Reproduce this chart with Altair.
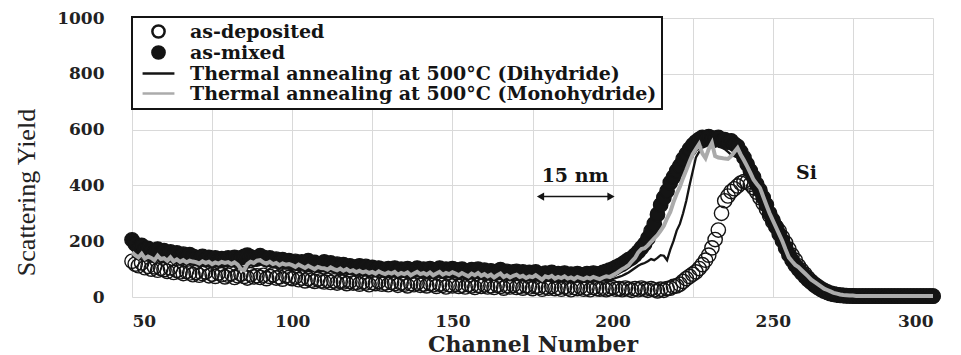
import altair as alt
import pandas as pd

channels = list(range(50, 301))

as_deposited = [
    128, 118, 112, 122, 105, 110, 100, 108, 96, 102,
    98, 92, 104, 88, 95, 90, 84, 92, 86, 80,
    88, 78, 84, 90, 76, 82, 74, 86, 80, 72,
    78, 84, 70, 76, 82, 74, 68, 80, 72, 76,
    70, 78, 66, 74, 80, 68, 72, 64, 76, 70,
    66, 72, 62, 68, 58, 66, 60, 56, 64, 58,
    54, 60, 52, 58, 50, 56, 54, 48, 56, 50,
    52, 46, 54, 50, 44, 52, 48, 56, 46, 50,
    44, 52, 48, 42, 50, 46, 40, 48, 44, 50,
    42, 46, 40, 48, 44, 38, 46, 42, 36, 44,
    40, 46, 38, 42, 36, 44, 40, 34, 42, 38,
    44, 36, 40, 34, 42, 38, 32, 40, 36, 42,
    34, 38, 32, 40, 36, 30, 38, 34, 28, 36,
    32, 38, 30, 34, 28, 36, 32, 26, 34, 30,
    36, 28, 32, 26, 34, 30, 28, 32, 26, 30,
    34, 28, 30, 26, 32, 28, 24, 30, 26, 32,
    28, 24, 30, 26, 22, 28, 24, 30, 32, 38,
    40, 46, 56, 66, 74, 82, 90, 102, 116, 132,
    150, 176, 206, 240, 300, 345, 362, 378, 388, 398,
    408, 414, 412, 404, 392, 376, 356, 336, 316, 292,
    270, 252, 236, 214, 194, 172, 150, 132, 112, 96,
    82, 68, 56, 46, 38, 30, 24, 18, 14, 11,
    9, 7, 6, 5, 4, 4, 3, 3, 3, 3,
    3, 3, 3, 3, 3, 3, 3, 3, 3, 3,
    3, 3, 3, 3, 3, 3, 3, 3, 3, 3,
    3,
]

as_mixed = [
    205, 190, 178, 185, 170, 174, 168, 160, 172, 158,
    166, 155, 162, 150, 158, 148, 154, 145, 152, 146,
    142, 138, 146, 134, 142, 136, 140, 132, 138, 134,
    140, 134, 142, 136, 140, 146, 150, 144, 140, 136,
    148, 142, 136, 140, 132, 136, 128, 134, 126, 130,
    124, 128, 120, 126, 122, 130, 118, 124, 116, 120,
    126, 118, 122, 114, 118, 110, 116, 108, 112, 106,
    108, 112, 104, 110, 100, 106, 98, 104, 100, 96,
    102, 96, 104, 94, 100, 96, 102, 92, 98, 104,
    96, 100, 94, 102, 92, 98, 104, 94, 100, 96,
    102, 98, 92, 100, 94, 90, 98, 92, 100, 90,
    96, 88, 94, 86, 92, 98, 86, 92, 84, 90,
    92, 86, 90, 82, 88, 84, 90, 82, 80, 86,
    82, 88, 78, 84, 80, 86, 78, 82, 76, 84,
    80, 78, 84, 80, 86, 82, 84, 88, 92, 96,
    100, 106, 112, 118, 126, 134, 140, 150, 162, 176,
    190, 210, 236, 262, 296, 330, 356, 380, 410, 430,
    452, 470, 494, 512, 530, 545, 556, 565, 572, 568,
    575, 570, 566, 572, 560, 564, 555, 560, 548, 540,
    520, 500, 476, 452, 430, 404, 382, 356, 330, 300,
    276, 252, 226, 202, 176, 152, 132, 114, 100, 86,
    74, 62, 52, 42, 34, 27, 21, 16, 12, 9,
    7, 6, 5, 4, 4, 3, 3, 3, 3, 3,
    3, 3, 3, 3, 3, 3, 3, 3, 3, 3,
    3, 3, 3, 3, 3, 3, 3, 3, 3, 3,
    3,
]

dihydride = [
    150, 140, 134, 144, 130, 136, 128, 124, 134, 126,
    128, 122, 130, 118, 124, 116, 122, 114, 120, 116,
    114, 110, 118, 112, 116, 108, 114, 110, 116, 112,
    114, 108, 112, 106, 110, 104, 108, 114, 110, 116,
    118, 112, 108, 114, 106, 110, 104, 108, 104, 106,
    104, 98, 104, 100, 94, 100, 96, 92, 98, 94,
    92, 88, 94, 90, 86, 92, 84, 90, 84, 86,
    80, 84, 78, 82, 76, 80, 76, 82, 76, 74,
    78, 74, 80, 72, 76, 72, 78, 70, 74, 78,
    72, 76, 70, 76, 68, 74, 78, 70, 74, 72,
    76, 72, 68, 74, 70, 66, 72, 68, 74, 66,
    70, 64, 70, 62, 68, 72, 62, 68, 62, 66,
    68, 62, 66, 60, 64, 62, 66, 60, 56, 64,
    60, 64, 58, 62, 58, 62, 56, 60, 56, 62,
    58, 56, 60, 56, 62, 58, 56, 60, 62, 60,
    64, 68, 72, 76, 82, 88, 96, 104, 112, 118,
    122, 128, 136, 132, 140, 150, 148, 132, 170, 200,
    238, 262, 300, 345, 400, 450, 500, 520, 535, 540,
    545, 540, 538, 542, 536, 530, 520, 510, 505, 500,
    495, 478, 455, 430, 408, 392, 365, 338, 312, 285,
    262, 242, 220, 196, 168, 145, 128, 114, 102, 92,
    82, 72, 60, 52, 44, 36, 29, 24, 19, 14,
    11, 8, 7, 6, 5, 4, 4, 3, 3, 3,
    3, 3, 3, 3, 3, 3, 3, 3, 3, 3,
    3, 3, 3, 3, 3, 3, 3, 3, 3, 3,
    3,
]

monohydride = [
    160, 150, 142, 155, 138, 145, 140, 132, 148, 136,
    139, 130, 142, 128, 135, 126, 132, 124, 130, 127,
    125, 120, 128, 122, 126, 118, 124, 120, 126, 122,
    125, 118, 124, 116, 100, 96, 118, 126, 122, 130,
    132, 124, 120, 126, 118, 122, 114, 120, 116, 118,
    114, 108, 116, 110, 104, 112, 106, 100, 108, 104,
    103, 98, 106, 100, 96, 102, 94, 100, 92, 96,
    89, 94, 88, 92, 86, 90, 84, 92, 86, 82,
    88, 84, 90, 80, 86, 82, 88, 78, 84, 90,
    82, 86, 80, 88, 78, 84, 90, 80, 86, 82,
    89, 84, 78, 86, 80, 74, 84, 78, 86, 76,
    82, 74, 80, 70, 78, 84, 72, 78, 70, 76,
    80, 72, 76, 68, 74, 71, 78, 70, 62, 74,
    70, 76, 66, 72, 68, 74, 66, 70, 64, 72,
    68, 64, 70, 66, 72, 68, 64, 70, 74, 72,
    78, 84, 92, 100, 106, 114, 128, 140, 160, 172,
    175, 185, 198, 210, 222, 238, 255, 282, 305, 340,
    370, 395, 427, 455, 485, 512, 530, 548, 515, 498,
    530, 552, 505, 500, 498, 496, 495, 505, 520, 534,
    510, 490, 468, 445, 420, 405, 391, 360, 330, 300,
    275, 250, 225, 200, 170, 142, 128, 115, 107, 96,
    85, 74, 62, 54, 46, 38, 30, 25, 20, 15,
    12, 9, 7, 6, 5, 5, 4, 4, 4, 4,
    4, 4, 4, 4, 4, 4, 4, 4, 4, 4,
    4, 4, 4, 4, 4, 4, 4, 4, 4, 4,
    4,
]

series_names = [
    "as-deposited",
    "as-mixed",
    "Thermal annealing at 500°C (Dihydride)",
    "Thermal annealing at 500°C (Monohydride)",
]

x_grid_values = list(range(50, 301, 25))
y_grid_values = list(range(0, 1001, 100))

ann_text = ["15 nm", "Si"]
ann_x = [188.3, 260.5]
ann_y = [434, 445]
arrow_x = [177.5, 199.5]
arrow_y = [360, 360]

# ---------- tables ----------
def long(name, vals):
    return pd.DataFrame({"channel": channels, "yield": vals, "series": name})

pts_df = pd.concat([long(series_names[1], as_mixed), long(series_names[0], as_deposited)], ignore_index=True)
pts_df["order"] = range(len(pts_df))
dih_df = long(series_names[2], dihydride)
mono_df = long(series_names[3], monohydride)
ann_df = pd.DataFrame({"x": ann_x, "y": ann_y, "text": ann_text})
arrow_df = pd.DataFrame({"x": [arrow_x[0]], "x2": [arrow_x[1]], "y": [arrow_y[0]]})
head_df = pd.DataFrame({"x": arrow_x, "y": arrow_y, "shape": ["triangle-left", "triangle-right"]})

INK = "#141414"
GREY = "#ababab"
line_path = "M-2.6,0L2.6,0"

stroke_scale = alt.Scale(domain=series_names, range=[INK, INK, INK, GREY])
fill_scale = alt.Scale(domain=series_names, range=["transparent", INK, "transparent", "transparent"])
shape_scale = alt.Scale(domain=series_names, range=["circle", "circle", line_path, line_path])

x_enc = alt.X(
    "channel:Q",
    scale=alt.Scale(domain=[50, 300], nice=False, zero=False),
    axis=alt.Axis(
        values=x_grid_values,
        labelExpr="datum.value % 50 == 0 ? datum.label : ''",
        title="Channel Number",
    ),
)
y_enc = alt.Y(
    "yield:Q",
    scale=alt.Scale(domain=[0, 1000], nice=False),
    axis=alt.Axis(
        values=y_grid_values,
        format="d",
        labelExpr="datum.value % 200 == 0 ? datum.label : ''",
        title="Scattering Yield",
    ),
)

stroke_enc = alt.Stroke("series:N", scale=stroke_scale, title=None)

points = alt.Chart(pts_df).mark_point(filled=True, opacity=1, size=205, strokeWidth=1.4).encode(
    x=x_enc,
    y=y_enc,
    stroke=stroke_enc,
    fill=alt.Fill("series:N", scale=fill_scale, title=None),
    shape=alt.Shape("series:N", scale=shape_scale, title=None),
    order=alt.Order("order:Q"),
)

line_dih = alt.Chart(dih_df).mark_line(strokeWidth=2.3).encode(
    x="channel:Q", y="yield:Q", stroke=stroke_enc
)
line_mono = alt.Chart(mono_df).mark_line(strokeWidth=4).encode(
    x="channel:Q", y="yield:Q", stroke=stroke_enc
)

ann = alt.Chart(ann_df).mark_text(
    font="DejaVu Serif", fontWeight="bold", fontSize=19, color=INK
).encode(x="x:Q", y="y:Q", text="text:N")

arrow = alt.Chart(arrow_df).mark_rule(color=INK, strokeWidth=1.5).encode(
    x="x:Q", x2="x2:Q", y="y:Q"
)
heads = alt.Chart(head_df).mark_point(filled=True, opacity=1, size=70, color=INK).encode(
    x="x:Q", y="y:Q", shape=alt.Shape("shape:N", scale=None)
)

chart = (
    alt.layer(points, line_dih, line_mono, ann, arrow, heads)
    .properties(
        width=801,
        height=279,
        autosize=alt.AutoSizeParams(type="none"),
        padding={"left": 124, "top": 10, "right": 20, "bottom": 58},
    )
    .configure_view(stroke="transparent")
    .configure_axis(
        domain=False,
        ticks=False,
        grid=True,
        gridColor="#d9d9d9",
        gridWidth=1,
        labelFont="DejaVu Serif",
        labelFontWeight="bold",
        labelFontSize=17,
        labelColor="#222222",
    )
    .configure_axisX(
        labelPadding=16,
        titleFont="DejaVu Serif",
        titleFontWeight="bold",
        titleFontSize=22,
        titleColor="#222222",
        titleY=47,
        titleBaseline="middle",
    )
    .configure_axisY(
        labelPadding=28,
        titleFont="Liberation Serif",
        titleFontWeight="normal",
        titleFontSize=26,
        titleColor="#222222",
        titleX=-106,
        titleY=174,
        titleBaseline="middle",
        titleAlign="center",
    )
    .configure_legend(
        orient="none",
        legendX=0,
        legendY=-1,
        fillColor="white",
        strokeColor=INK,
        strokeWidth=2,
        padding=5,
        labelFont="DejaVu Serif",
        labelFontWeight="bold",
        labelFontSize=19,
        labelColor=INK,
        labelLimit=900,
        symbolSize=150,
        symbolStrokeWidth=2.5,
        symbolOffset=12,
        labelOffset=22,
        rowPadding=-2,
    )
)

chart.save("out.html", embed_options={"renderer": "svg", "actions": False})
